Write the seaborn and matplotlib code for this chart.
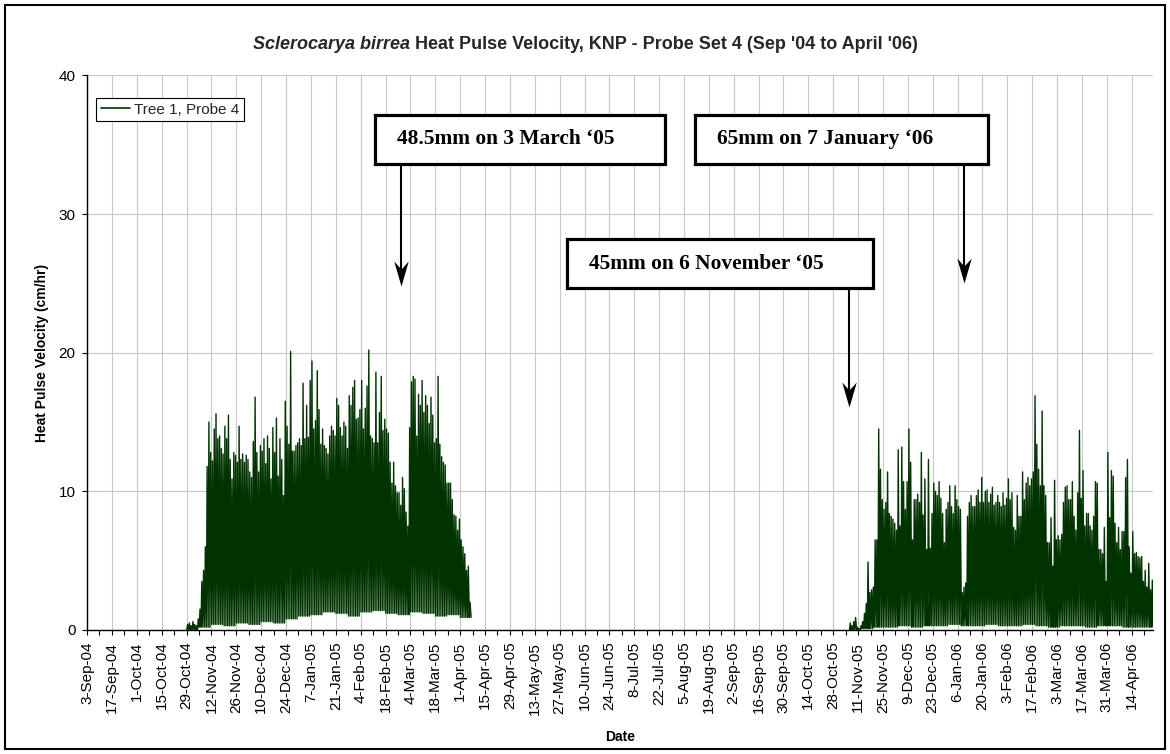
import matplotlib.dates as mdates
import matplotlib.pyplot as plt
import pandas as pd
import seaborn as sns
from matplotlib.lines import Line2D
from matplotlib.patches import Rectangle
from matplotlib.path import Path

sns.set_theme(style="white")
plt.rcParams["font.family"] = ["Liberation Sans", "DejaVu Sans"]

axis_start = "2004-09-03"
axis_end = "2006-04-26"

# afternoon peak of each day (cm/hr)
p1_start = "2004-10-29"
p1_peaks = [
    0.4, 0.5, 0.3, 0.6, 0.4, 0.3, 0.8, 1.5, 3.5, 4.3,
    6.0, 11.8, 15.0, 12.8, 12.2, 14.5, 15.6, 13.8, 14.0, 13.1,
    12.7, 14.7, 13.8, 15.5, 12.3, 10.9, 12.8, 12.6, 12.1, 14.7,
    12.3, 12.7, 12.1, 12.6, 12.3, 11.4, 11.0, 13.6, 16.8, 12.8,
    11.4, 13.3, 12.9, 13.8, 12.0, 14.0, 13.1, 10.9, 14.6, 12.8,
    15.3, 11.1, 13.8, 12.3, 9.7, 16.5, 14.7, 13.4, 20.1, 12.9,
    12.9, 13.3, 13.5, 13.8, 13.3, 17.8, 13.8, 16.2, 13.9, 18.0,
    19.4, 14.5, 15.1, 18.7, 15.9, 13.4, 14.5, 13.3, 13.1,
    12.7, 14.0, 14.7, 14.4, 14.0, 16.7, 16.2, 14.6, 14.0, 15.0,
    14.7, 13.1, 16.9, 16.2, 17.5, 18.0, 15.2, 15.3, 15.9, 18.0,
    14.5, 16.0, 17.6, 20.2, 14.0, 13.8, 13.5, 18.6, 13.5, 15.7,
    18.3, 14.4, 15.2, 14.5, 14.2, 12.1, 10.6, 12.1, 10.4, 9.9,
    9.9, 9.0, 11.0, 10.2, 8.5, 7.5, 14.6, 17.9, 18.3, 18.1,
    14.0, 17.0, 16.2, 18.0, 15.7, 16.9, 16.2, 14.9, 16.8, 15.5,
    13.5, 13.8, 18.3, 13.4, 12.5, 12.1, 11.9, 10.6, 10.6, 10.6,
    9.4, 8.3, 8.2, 7.2, 8.0, 6.5, 6.0, 5.5, 4.3, 4.6, 2.0,
]
# night-time floor, one value per week
p1_floor = [
    0.0, 0.2, 0.4, 0.3, 0.5, 0.4, 0.6, 0.5, 0.8, 1.0, 1.1, 1.3,
    1.2, 1.0, 1.3, 1.4, 1.2, 1.1, 1.3, 1.2, 1.0, 1.1, 0.9,
]

p2_start = "2005-11-06"
p2_peaks = [
    0.5, 0.3, 0.6, 0.9, 0.2, 0.1, 0.3,
    0.6, 1.2, 1.9, 4.9, 2.7, 2.9, 3.1, 6.5, 6.5, 14.5,
    11.6, 9.4, 8.7, 9.2, 11.4, 8.4, 8.2, 8.0, 7.7, 7.2,
    13.0, 7.5, 13.2, 10.7, 8.7, 10.7, 14.5, 12.1, 6.5, 9.4,
    9.4, 9.8, 9.2, 12.8, 8.3, 10.9, 5.8, 12.3, 5.9, 8.4,
    10.6, 10.0, 9.7, 10.7, 9.5, 8.4, 6.3, 8.7, 9.2, 10.4,
    8.9, 8.4, 10.4, 9.4, 8.9, 8.7, 2.7, 3.1, 3.4, 8.2,
    9.2, 9.7, 8.9, 8.9, 9.7, 10.1, 9.2, 11.0, 9.2, 10.0,
    10.1, 9.2, 9.8, 10.3, 9.0,
    9.2, 9.7, 9.2, 8.9, 9.9, 9.0, 9.5, 10.9, 9.4, 9.9,
    7.4, 7.2, 9.7, 8.2, 8.2, 11.4, 9.4, 10.6, 11.0, 10.4,
    10.9, 11.4, 16.9, 13.4, 11.6, 10.4, 15.8, 10.4, 9.7, 6.3,
    6.3, 8.1, 4.6, 10.8, 6.5, 6.8, 6.5, 6.9, 9.2, 10.3,
    10.4, 9.4, 9.4, 10.7, 8.2, 7.2, 9.9, 14.4, 9.5, 11.5,
    7.5, 8.4, 8.4, 7.5, 7.2, 8.2, 10.7, 10.6, 5.8, 5.8,
    5.5, 7.4, 3.5, 12.8, 8.1, 11.5, 11.1, 7.7, 6.3, 7.4,
    5.8, 7.1, 7.1, 11.0, 12.3, 6.0, 4.1, 7.1, 5.5, 5.6,
    5.3, 5.2, 5.3, 3.5, 4.3, 3.1, 4.8, 2.9, 3.6, 2.0,
]
p2_floor = [
    0.0, 0.1, 0.2, 0.2, 0.3, 0.2, 0.3, 0.3, 0.4, 0.3, 0.3, 0.4, 0.3,
    0.3, 0.4, 0.3, 0.2, 0.3, 0.3, 0.2, 0.3, 0.3, 0.2, 0.2, 0.2,
]

series_label = "Tree 1, Probe 4"
rain_labels = [
    "48.5mm on 3 March \u201805",
    "65mm on 7 January \u201806",
    "45mm on 6 November \u201805",
]


def diurnal(start, peaks, floor, period):
    days = pd.date_range(start, periods=len(peaks), freq="D")
    rows = []
    for i, (day, peak) in enumerate(zip(days, peaks)):
        rows.append((day + pd.Timedelta(hours=4), floor[i // 7], period))
        rows.append((day + pd.Timedelta(hours=14), peak, period))
    rows.append((days[-1] + pd.Timedelta(hours=28), floor[-1], period))
    return pd.DataFrame(rows, columns=["time", "hpv", "period"])


df = pd.concat([
    diurnal(p1_start, p1_peaks, p1_floor, 1),
    diurnal(p2_start, p2_peaks, p2_floor, 2),
])

green = "#003300"
fig = plt.figure(figsize=(11.7, 7.54), dpi=100)
ax = fig.add_axes([0.0744, 0.1645, 0.9111, 0.7354])

sns.lineplot(
    data=df, x="time", y="hpv", units="period", estimator=None,
    color=green, lw=1.0, ax=ax
)

# axes
major = pd.date_range(axis_start, axis_end, freq="14D")
minor = pd.date_range(axis_start, axis_end, freq="7D")
ax.set_xlim(mdates.date2num(pd.Timestamp(axis_start)),
            mdates.date2num(pd.Timestamp(axis_end)))
ax.set_ylim(0, 40)
ax.set_yticks([0, 10, 20, 30, 40])
ax.set_xticks(mdates.date2num(major.to_pydatetime()))
ax.set_xticks(mdates.date2num(minor.to_pydatetime()), minor=True)
ax.set_xticklabels([d.strftime("%-d-%b-%y") for d in major], rotation=90)

ax.tick_params(axis="x", which="both", bottom=True, direction="out",
               length=3.4, width=0.8, color="black", pad=5,
               labelsize=11, labelcolor="black")
ax.tick_params(axis="y", left=True, direction="out", length=3.4, width=0.8,
               color="black", pad=5, labelsize=11, labelcolor="black")
ax.grid(True, which="major", color="#c8c8c8", lw=0.8)
ax.set_axisbelow(True)
for side in ["top", "right"]:
    ax.spines[side].set_visible(False)
for side in ["left", "bottom"]:
    ax.spines[side].set_color("black")
    ax.spines[side].set_linewidth(1.0)

ax.set_xlabel("Date", fontsize=10, fontweight="bold", color="black")
ax.set_ylabel("Heat Pulse Velocity (cm/hr)", fontsize=10,
              fontweight="bold", color="black")
ax.xaxis.set_label_coords(0.5, -0.18)
ax.yaxis.set_label_coords(-0.036, 0.5)

# legend
handle = Line2D([], [], color=green, lw=1.2)
leg = ax.legend(
    [handle], [series_label], loc="upper left",
    bbox_to_anchor=(0.0084, 0.9594), borderaxespad=0, frameon=True,
    fancybox=False, edgecolor="black", framealpha=1, fontsize=11,
    handlelength=1.9, handletextpad=0.3, borderpad=0.3
)
leg.get_frame().set_linewidth(0.8)

# notched arrow head, tip at the origin
head = Path([(0, 0), (-0.29, 1), (0, 0.68), (0.29, 1), (0, 0)],
            [Path.MOVETO, Path.LINETO, Path.LINETO, Path.LINETO,
             Path.CLOSEPOLY])

# rainfall call-outs
boxes = [
    (0.2702, 0.8404, 0.5422, 0.9288, 0.2905, 0.2948, 0.6209),
    (0.5704, 0.8404, 0.8455, 0.9288, 0.5906, 0.8229, 0.6252),
    (0.4500, 0.6162, 0.7376, 0.7046, 0.4712, 0.7145, 0.4027),
]
for text, (x0, y0, x1, y1, tx, axx, tip) in zip(rain_labels, boxes):
    ax.add_patch(Rectangle(
        (x0, y0), x1 - x0, y1 - y0, transform=ax.transAxes,
        facecolor="white", edgecolor="black", lw=2.3, zorder=5,
        clip_on=False
    ))
    ax.text(tx, (y0 + y1) / 2, text, transform=ax.transAxes, ha="left",
            va="center", fontsize=15.4, fontweight="bold",
            family=["Liberation Serif", "DejaVu Serif"], color="black",
            zorder=6)
    ax.plot([axx, axx], [y0, tip + 0.02], transform=ax.transAxes,
            color="black", lw=1.5, clip_on=False, zorder=6)
    ax.plot([axx], [tip], transform=ax.transAxes, marker=head, ms=36,
            color="black", mew=0, clip_on=False, zorder=6)

# title, with the species name in italics
t1 = fig.text(0.2162, 0.9416, "Sclerocarya birrea", fontsize=13,
              fontweight="bold", style="italic", va="center", ha="left")
ax.annotate(" Heat Pulse Velocity, KNP - Probe Set 4 (Sep '04 to April '06)",
            xy=(1, 0), xycoords=t1, ha="left", va="bottom", fontsize=13,
            fontweight="bold")

fig.add_artist(Rectangle((0.0043, 0.0066), 0.9915, 0.9867,
                         transform=fig.transFigure, fill=False,
                         edgecolor="black", lw=1.5))

fig.savefig("out.png", dpi=100)
